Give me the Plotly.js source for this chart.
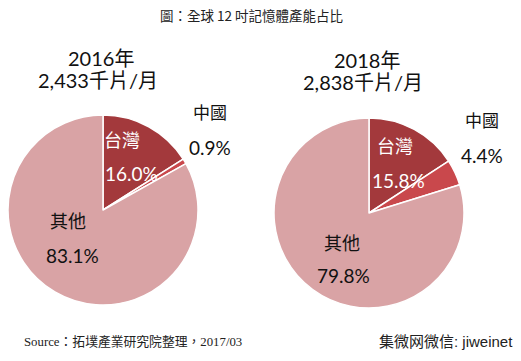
<!DOCTYPE html>
<html><head><meta charset="utf-8">
<script src="https://cdn.plot.ly/plotly-3.0.1.min.js"></script>
<style>html,body{margin:0;padding:0;background:#fff}#c{width:521px;height:361px}</style>
</head><body><div id="c"></div>
<script>
const categories = ['台灣', '中國', '其他'];
const values2016 = [16.0, 0.9, 83.1];
const values2018 = [15.8, 4.4, 79.8];
const years = ['2016年', '2018年'];
const capacities = ['2,433千片/月', '2,838千片/月'];
const colors = ['#a3393c', '#c9484c', '#d9a3a5'];

const CJK = '"Noto Sans CJK TC", "Noto Sans", sans-serif';
const NUM = 'Lato, "Noto Sans CJK TC", sans-serif';

function pie(vals, xd, yd) {
  return {
    type: 'pie', values: vals, labels: categories, sort: false,
    direction: 'clockwise', rotation: 0, textinfo: 'none', hoverinfo: 'label+percent',
    marker: {colors: colors, line: {color: '#ffffff', width: 1.5}},
    domain: {x: xd, y: yd}, showlegend: false
  };
}
const W = 521, H = 361;
const px = x => x / W, py = y => 1 - y / H;

function ann(text, x, y, color, size, font) {
  return {text: text, x: px(x), y: py(y), xref: 'paper', yref: 'paper', showarrow: false,
    xanchor: 'center', yanchor: 'middle', font: {family: font || NUM, size: size || 19, color: color || '#111'}};
}
const pct = v => v.toFixed(1) + '%';

const annotations = [
  ann('圖：全球 12 吋記憶體產能占比', 251, 15, '#222', 13.5, CJK),
  ann(years[0], 101, 58, '#111', 20), ann(capacities[0], 98, 80, '#111', 20),
  ann(years[1], 367, 60, '#111', 20), ann(capacities[1], 363, 82, '#111', 20),
  ann(categories[0], 122, 139, '#fff', 18, CJK), ann(pct(values2016[0]), 131, 173, '#fff', 19),
  ann(categories[1], 210, 112, '#111', 17, CJK), ann(pct(values2016[1]), 210, 147, '#111', 19),
  ann(categories[2], 68, 220, '#111', 18, CJK), ann(pct(values2016[2]), 72, 255, '#111', 19),
  ann(categories[0], 395, 145, '#fff', 18, CJK), ann(pct(values2018[0]), 398, 180, '#fff', 19),
  ann(categories[1], 482, 120, '#111', 17, CJK), ann(pct(values2018[1]), 482, 155, '#111', 19),
  ann(categories[2], 342, 242, '#111', 18, CJK), ann(pct(values2018[2]), 343, 275, '#111', 19),
  {text: 'Source：拓墣產業研究院整理，2017/03', x: px(22), y: py(341), xref: 'paper', yref: 'paper', showarrow: false,
   xanchor: 'left', yanchor: 'middle', font: {family: '"Liberation Serif", "Noto Sans CJK TC", serif', size: 12.8, color: '#222'}},
  {text: '集微网微信: jiweinet', x: px(515), y: py(341), xref: 'paper', yref: 'paper', showarrow: false,
   xanchor: 'right', yanchor: 'middle', font: {family: '"Liberation Sans", "Noto Sans CJK SC", sans-serif', size: 15, color: '#222'}}
];

Plotly.newPlot('c', [
  pie(values2016, [px(8), px(198)], [py(305), py(115)]),
  pie(values2018, [px(274), px(464)], [py(308), py(118)])
], {
  width: W, height: H, margin: {l: 0, r: 0, t: 0, b: 0},
  paper_bgcolor: '#fff', annotations: annotations
}, {staticPlot: true});
</script></body></html>
